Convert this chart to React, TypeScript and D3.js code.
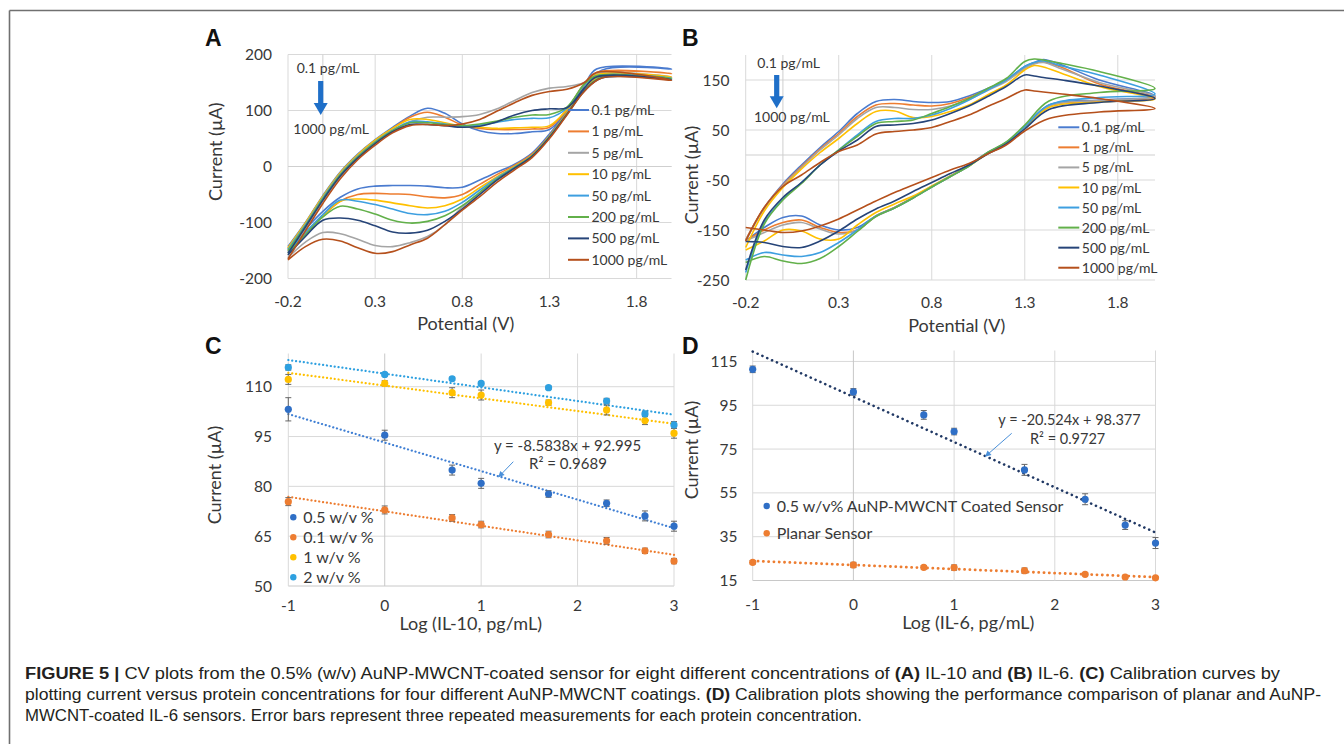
import React from "react";
import * as d3 from "d3";

// ---------------- Data ----------------
const CONC_LABELS = ["0.1 pg/mL", "1 pg/mL", "5 pg/mL", "10 pg/mL", "50 pg/mL", "200 pg/mL", "500 pg/mL", "1000 pg/mL"];
const CV_COLORS = ["#4a7bcf", "#ED7D31", "#A5A5A5", "#FFC000", "#3d9fe0", "#62b04a", "#264478", "#b5501c"];

const CV_X_TICKS = [-0.2, 0.3, 0.8, 1.3, 1.8];

// Panel A (IL-10) CV: forward scan potentials and currents
const A_FWD_V = [-0.2, -0.1, 0, 0.1, 0.2, 0.3, 0.4, 0.5, 0.6, 0.7, 0.8, 0.9, 1.0, 1.1, 1.2, 1.3, 1.4, 1.5, 1.57, 2.0];
const A_FWD_I = [
  [-143, -100, -52, -10, 22, 48, 70, 90, 104, 95, 76, 64, 59, 59, 62, 66, 100, 145, 174, 174],
  [-146, -102, -55, -12, 20, 46, 68, 88, 97, 88, 74, 68, 66, 66, 67, 70, 102, 148, 168, 166],
  [-158, -110, -62, -18, 15, 42, 63, 80, 88, 88, 89, 93, 103, 118, 132, 140, 143, 150, 166, 160],
  [-145, -101, -53, -11, 21, 47, 68, 84, 84, 78, 72, 70, 68, 69, 70, 73, 102, 146, 164, 160],
  [-148, -104, -56, -14, 18, 44, 65, 80, 80, 76, 72, 74, 79, 84, 86, 87, 104, 146, 162, 158],
  [-150, -106, -58, -15, 17, 43, 64, 78, 78, 75, 73, 76, 81, 88, 92, 93, 106, 147, 162, 157],
  [-155, -108, -60, -17, 15, 41, 62, 75, 75, 73, 70, 72, 80, 92, 100, 103, 105, 140, 160, 155],
  [-165, -115, -66, -22, 12, 38, 60, 73, 75, 73, 76, 84, 99, 114, 127, 134, 138, 150, 168, 154],
];
// Panel A reverse scan
const A_REV_V = [1.6, 1.5, 1.4, 1.3, 1.2, 1.1, 1.0, 0.9, 0.8, 0.7, 0.6, 0.5, 0.4, 0.3, 0.2, 0.1, 0.0, -0.1, -0.2];
const A_REV_I = [
  [172, 140, 98, 58, 24, 4, -10, -24, -37, -38, -35, -34, -34, -35, -40, -55, -80, -112, -148],
  [166, 138, 96, 55, 22, 2, -14, -32, -50, -56, -54, -50, -49, -48, -50, -62, -88, -118, -152],
  [162, 136, 94, 52, 18, -4, -24, -48, -72, -104, -125, -136, -143, -141, -130, -120, -118, -135, -163],
  [162, 137, 95, 54, 20, 0, -18, -38, -58, -70, -74, -70, -65, -60, -58, -62, -88, -118, -150],
  [160, 136, 94, 53, 19, -1, -20, -42, -64, -80, -86, -84, -76, -68, -62, -60, -86, -118, -152],
  [160, 136, 94, 53, 19, -2, -22, -46, -70, -88, -98, -101, -96, -85, -76, -71, -90, -122, -155],
  [158, 135, 93, 52, 18, -3, -24, -50, -76, -98, -114, -119, -117, -106, -96, -92, -96, -125, -158],
  [158, 134, 92, 50, 16, -6, -28, -54, -78, -104, -128, -140, -152, -155, -145, -133, -130, -143, -167],
];

// Panel B (IL-6) CV
const B_FWD_V = [-0.2, -0.1, 0, 0.1, 0.2, 0.3, 0.4, 0.5, 0.6, 0.7, 0.8, 0.9, 1.0, 1.1, 1.2, 1.3, 1.35, 1.4, 1.5, 1.7, 2.0];
const B_FWD_I = [
  [-170, -105, -58, -20, 15, 47, 83, 107, 111, 107, 105, 107, 118, 133, 150, 177, 185, 191, 180, 150, 118],
  [-170, -105, -60, -23, 12, 43, 77, 100, 103, 100, 98, 103, 115, 131, 150, 173, 183, 186, 175, 142, 115],
  [-172, -107, -62, -25, 10, 40, 73, 95, 95, 91, 91, 98, 111, 129, 147, 173, 182, 185, 172, 145, 117],
  [-185, -112, -65, -28, 5, 33, 63, 87, 88, 75, 77, 87, 100, 120, 140, 170, 179, 176, 163, 137, 112],
  [-235, -135, -88, -55, -20, 10, 40, 67, 73, 73, 80, 93, 110, 130, 150, 177, 185, 188, 178, 160, 122],
  [-250, -138, -90, -57, -20, 10, 37, 63, 67, 70, 83, 97, 113, 133, 153, 187, 192, 190, 183, 167, 133],
  [-230, -130, -85, -55, -20, 8, 30, 57, 60, 63, 70, 83, 98, 117, 137, 160, 158, 155, 150, 138, 113],
  [-172, -105, -63, -40, -15, 7, 20, 42, 47, 50, 55, 67, 80, 97, 113, 130, 128, 126, 122, 113, 93],
];
const B_REV_V = [1.7, 1.43, 1.3, 1.2, 1.1, 1.0, 0.9, 0.8, 0.7, 0.6, 0.5, 0.4, 0.3, 0.2, 0.1, 0.0, -0.1, -0.2];
const B_REV_I = [
  [110, 100, 57, 25, 5, -20, -42, -63, -85, -105, -122, -145, -150, -140, -122, -125, -145, -172],
  [108, 98, 55, 24, 4, -21, -43, -63, -85, -105, -122, -150, -155, -145, -130, -135, -150, -172],
  [109, 98, 55, 24, 4, -22, -43, -64, -86, -106, -123, -150, -158, -148, -135, -140, -155, -172],
  [106, 95, 54, 23, 3, -22, -42, -62, -82, -98, -115, -140, -168, -168, -152, -150, -172, -190],
  [115, 100, 56, 24, 4, -22, -43, -64, -86, -106, -122, -150, -175, -195, -203, -200, -195, -210],
  [125, 108, 60, 26, 5, -22, -43, -64, -86, -106, -123, -153, -183, -207, -217, -212, -203, -215],
  [105, 91, 52, 22, 2, -20, -37, -55, -73, -92, -108, -128, -152, -172, -185, -183, -175, -173],
  [86, 73, 48, 20, 2, -17, -30, -45, -60, -75, -92, -110, -128, -142, -152, -155, -150, -145],
];

// Calibration data (concentrations in pg/mL)
const CONC = [0.1, 1, 5, 10, 50, 200, 500, 1000];
const C_LABELS = ["0.5 w/v %", "0.1 w/v %", "1 w/v %", "2 w/v %"];
const C_COLORS = ["#2f6fc6", "#ED7D31", "#FFC000", "#2ea0e0"];
const C_TREND_COLORS = ["#3f7fd4", "#ED7D31", "#FFC000", "#2ea0e0"];
const C_05 = [103.2, 95.4, 84.9, 80.9, 77.7, 74.9, 71.1, 68.0];
const C_05_ERR = [3.5, 1.5, 1.5, 1.5, 1.0, 1.0, 1.5, 1.5];
const C_01 = [75.4, 72.9, 70.5, 68.5, 65.5, 63.6, 60.6, 57.5];
const C_01_ERR = [1.2, 1.2, 1.0, 1.0, 1.0, 1.0, 0.8, 0.8];
const C_1 = [112.2, 111.0, 108.2, 107.5, 105.2, 103.0, 99.8, 96.0];
const C_1_ERR = [1.5, 0.8, 1.5, 1.5, 0.8, 1.5, 1.2, 1.5];
const C_2 = [115.8, 113.7, 112.4, 111.0, 109.7, 105.7, 101.8, 98.5];
const C_2_ERR = [0.8, 0.5, 0.5, 0.5, 0.5, 0.8, 0.8, 1.0];

const D_LABELS = ["0.5 w/v% AuNP-MWCNT Coated Sensor", "Planar Sensor"];
const D_COLORS = ["#2f6fc6", "#ED7D31"];
const D_TREND_COLORS = ["#203864", "#ED7D31"];
const D_COATED = [111.4, 101.1, 90.6, 83.0, 65.5, 52.1, 40.3, 32.1];
const D_COATED_ERR = [1.5, 1.5, 2, 1.5, 2.5, 2.5, 2, 2.5];
const D_PLANAR = [23.3, 22.1, 21.0, 20.9, 19.5, 17.8, 16.6, 16.2];
const D_PLANAR_ERR = [0.8, 1.2, 0.8, 1.2, 1.2, 0.6, 0.4, 0.4];

const CAL_X_TICKS = [-1, 0, 1, 2, 3];
const C_Y_TICKS = [50, 65, 80, 95, 110];
const D_Y_TICKS = [15, 35, 55, 75, 95, 115];

// ---------------- Rendering ----------------
const FONT = "Lato, 'Open Sans', 'DejaVu Sans', sans-serif";
const GRID = "#D9D9D9";
const TXT = "#383838";

function linreg(xs: number[], ys: number[]) {
  const mx = d3.mean(xs) as number;
  const my = d3.mean(ys) as number;
  let sxy = 0, sxx = 0;
  xs.forEach((x, i) => { sxy += (x - mx) * (ys[i] - my); sxx += (x - mx) * (x - mx); });
  const m = sxy / sxx;
  return { m, b: my - m * mx };
}

function CVPanel(p: any) {
  const x = d3.scaleLinear().domain([-0.2, 2.0]).range([p.left, p.right]);
  const y = d3.scaleLinear().domain(p.yDomain).range([p.bottom, p.top]);
  const line = d3.line<[number, number]>().x(d => x(d[0])).y(d => y(d[1])).curve(d3.curveCatmullRom.alpha(0.5));
  return (
    <g>
      {p.yTicks.map((t: number) => (
        <line key={"gy" + t} x1={p.left} x2={p.right} y1={y(t)} y2={y(t)} stroke={GRID} strokeWidth={1} />
      ))}
      {CV_X_TICKS.map(t => (
        <line key={"gx" + t} x1={x(t)} x2={x(t)} y1={p.top} y2={p.bottom} stroke={GRID} strokeWidth={1} />
      ))}
      <line x1={x(0)} x2={x(0)} y1={p.top} y2={p.bottom} stroke="#CFCFCF" strokeWidth={1} />
      <line x1={p.left} x2={p.right} y1={y(0)} y2={y(0)} stroke="#CFCFCF" strokeWidth={1} />
      {p.fwd.map((f: number[], i: number) => {
        const pts: [number, number][] = p.fwdV.map((v: number, j: number) => [v, f[j]] as [number, number])
          .concat(p.revV.map((v: number, j: number) => [v, p.rev[i][j]] as [number, number]));
        return <path key={"c" + i} d={line(pts) || ""} fill="none" stroke={CV_COLORS[i]} strokeWidth={1.6} />;
      })}
      {p.yTickLabels.map((t: number) => (
        <text key={"yl" + t} x={p.yTickX} y={y(t)} dy="0.36em" textAnchor="end" fontSize={15.5} fill={TXT}>{String(t)}</text>
      ))}
      {CV_X_TICKS.map(t => (
        <text key={"xl" + t} x={x(t)} y={p.xTickY} textAnchor="middle" fontSize={15.5} fill={TXT}>{String(t)}</text>
      ))}
      <text x={p.xTitleX} y={p.xTitleY} textAnchor="middle" fontSize={18} fill={TXT}>Potential (V)</text>
      <text transform={`translate(${p.yTitleX},${p.yTitleY}) rotate(-90)`} textAnchor="middle" dy="0.36em" fontSize={18} fill={TXT}>Current (µA)</text>
      {CONC_LABELS.map((lab, i) => (
        <g key={"lg" + i}>
          <line x1={p.legX} x2={p.legX + 21} y1={p.legY + i * p.legStep} y2={p.legY + i * p.legStep} stroke={CV_COLORS[i]} strokeWidth={2} />
          <text x={p.legX + 23.5} y={p.legY + i * p.legStep} dy="0.36em" fontSize={14} fill={TXT}>{lab}</text>
        </g>
      ))}
      <text x={p.t1x} y={p.t1y} fontSize={14} fill={TXT}>0.1 pg/mL</text>
      <rect x={p.ax - 2.6} y={p.ay1} width={5.2} height={p.ay2 - p.ay1 - 11} fill="#1f6fc8" />
      <polygon points={`${p.ax - 7},${p.ay2 - 12} ${p.ax + 7},${p.ay2 - 12} ${p.ax},${p.ay2}`} fill="#1f6fc8" />
      <text x={p.t2x} y={p.t2y} fontSize={14} fill={TXT}>1000 pg/mL</text>
      <text x={p.letterX} y={p.letterY} fontSize={23} fontWeight="bold" fontFamily="'Liberation Sans', Arial, sans-serif" fill="#111">{p.letter}</text>
    </g>
  );
}

function CalPanel(p: any) {
  const x = d3.scaleLinear().domain([-1, 3]).range([p.left, p.right]);
  const y = d3.scaleLinear().domain(p.yDomain).range([p.bottom, p.top]);
  const lx = CONC.map(c => Math.log10(c));
  return (
    <g>
      {p.yTicks.map((t: number) => (
        <line key={"gy" + t} x1={p.left} x2={p.right} y1={y(t)} y2={y(t)} stroke={t === p.yDomain[0] ? "#C8C8C8" : GRID} strokeWidth={1} />
      ))}
      {CAL_X_TICKS.map(t => (
        <line key={"gx" + t} x1={x(t)} x2={x(t)} y1={p.top} y2={p.bottom} stroke={t === 0 ? "#C8C8C8" : GRID} strokeWidth={1} />
      ))}
      {p.series.map((s: any, i: number) => {
        const r = linreg(lx, s.v);
        return (
          <line key={"tr" + i} x1={x(-1)} x2={x(3)} y1={y(r.m * -1 + r.b)} y2={y(r.m * 3 + r.b)}
            stroke={s.trend} strokeWidth={s.tw} strokeDasharray={s.dash} strokeLinecap="round" />
        );
      })}
      {p.series.map((s: any, i: number) => (
        <g key={"s" + i}>
          {s.v.map((v: number, j: number) => (
            <g key={j}>
              <line x1={x(lx[j])} x2={x(lx[j])} y1={y(v - s.e[j])} y2={y(v + s.e[j])} stroke="#666" strokeWidth={1} />
              <line x1={x(lx[j]) - 3} x2={x(lx[j]) + 3} y1={y(v - s.e[j])} y2={y(v - s.e[j])} stroke="#666" strokeWidth={1} />
              <line x1={x(lx[j]) - 3} x2={x(lx[j]) + 3} y1={y(v + s.e[j])} y2={y(v + s.e[j])} stroke="#666" strokeWidth={1} />
              <circle cx={x(lx[j])} cy={y(v)} r={3.6} fill={s.color} />
            </g>
          ))}
        </g>
      ))}
      {p.yTicks.map((t: number) => (
        <text key={"yl" + t} x={p.yTickX} y={y(t)} dy="0.36em" textAnchor="end" fontSize={15.5} fill={TXT}>{String(t)}</text>
      ))}
      {CAL_X_TICKS.map(t => (
        <text key={"xl" + t} x={x(t)} y={p.xTickY} textAnchor="middle" fontSize={15.5} fill={TXT}>{String(t)}</text>
      ))}
      <text x={p.xTitleX} y={p.xTitleY} textAnchor="middle" fontSize={18} fill={TXT}>{p.xTitle}</text>
      <text transform={`translate(${p.yTitleX},${p.yTitleY}) rotate(-90)`} textAnchor="middle" dy="0.36em" fontSize={18} fill={TXT}>Current (µA)</text>
      {p.series.map((s: any, i: number) => (
        <g key={"lg" + i}>
          <circle cx={p.legX} cy={p.legY + i * p.legStep} r={3.2} fill={s.color} />
          <text x={p.legX + 10} y={p.legY + i * p.legStep} dy="0.36em" fontSize={16} fill={TXT}>{s.label}</text>
        </g>
      ))}
      <text x={p.eqX} y={p.eqY} textAnchor={p.eqAnchor} fontSize={p.eqSize} fill={TXT}>{p.eq}</text>
      <text x={p.r2X} y={p.r2Y} textAnchor={p.eqAnchor} fontSize={p.eqSize} fill={TXT}>{p.r2}</text>
      <line x1={p.arr[0]} y1={p.arr[1]} x2={p.arr[2]} y2={p.arr[3]} stroke="#4a90d9" strokeWidth={1} />
      {(() => {
        const [x1, y1, x2, y2] = p.arr;
        const a = Math.atan2(y2 - y1, x2 - x1);
        const L = 6, W = 3;
        const bx = x2 - L * Math.cos(a), by = y2 - L * Math.sin(a);
        const pts = `${x2},${y2} ${bx + W * Math.sin(a)},${by - W * Math.cos(a)} ${bx - W * Math.sin(a)},${by + W * Math.cos(a)}`;
        return <polygon points={pts} fill="#4a90d9" />;
      })()}
      <text x={p.letterX} y={p.letterY} fontSize={23} fontWeight="bold" fontFamily="'Liberation Sans', Arial, sans-serif" fill="#111">{p.letter}</text>
    </g>
  );
}

export default function App() {
  const cvA = {
    left: 288, right: 671.5, top: 54.5, bottom: 278.5, yDomain: [-200, 200],
    yTicks: [-200, -100, 0, 100, 200], yTickLabels: [-200, -100, 0, 100, 200],
    fwdV: A_FWD_V, revV: A_REV_V, fwd: A_FWD_I, rev: A_REV_I,
    yTickX: 272, xTickY: 307, xTitleX: 465.7, xTitleY: 329.5, yTitleX: 216, yTitleY: 151.7,
    legX: 568, legY: 110, legStep: 21.4,
    t1x: 296.7, t1y: 72.5, ax: 320.7, ay1: 81, ay2: 115, t2x: 293.3, t2y: 134,
    letter: "A", letterX: 205, letterY: 46,
  };
  const cvB = {
    left: 745.7, right: 1155, top: 55, bottom: 280, yDomain: [-250, 200],
    yTicks: [-250, -150, -50, 50, 150], yTickLabels: [-250, -150, -50, 50, 150],
    fwdV: B_FWD_V, revV: B_REV_V, fwd: B_FWD_I, rev: B_REV_I,
    yTickX: 729.5, xTickY: 308, xTitleX: 956.7, xTitleY: 331.5, yTitleX: 692, yTitleY: 175,
    legX: 1058.3, legY: 127.3, legStep: 20.06,
    t1x: 757.3, t1y: 68.3, ax: 776.7, ay1: 75, ay2: 108.3, t2x: 754, t2y: 122.3,
    letter: "B", letterX: 682, letterY: 46,
  };
  const calC = {
    left: 288.3, right: 674, top: 353.5, bottom: 586, yDomain: [50, 120], yTicks: C_Y_TICKS,
    yTickX: 272, xTickY: 611, xTitleX: 470.7, xTitleY: 630, yTitleX: 215, yTitleY: 475,
    xTitle: "Log (IL-10, pg/mL)",
    series: [
      { label: C_LABELS[0], v: C_05, e: C_05_ERR, color: C_COLORS[0], trend: C_TREND_COLORS[0], tw: 2.2, dash: "0.1 3.8" },
      { label: C_LABELS[1], v: C_01, e: C_01_ERR, color: C_COLORS[1], trend: C_TREND_COLORS[1], tw: 2.2, dash: "0.1 3.8" },
      { label: C_LABELS[2], v: C_1, e: C_1_ERR, color: C_COLORS[2], trend: C_TREND_COLORS[2], tw: 2.2, dash: "0.1 3.8" },
      { label: C_LABELS[3], v: C_2, e: C_2_ERR, color: C_COLORS[3], trend: C_TREND_COLORS[3], tw: 2.2, dash: "0.1 3.8" },
    ],
    legX: 293.3, legY: 517.3, legStep: 20,
    eq: "y = -8.5838x + 92.995", r2: "R² = 0.9689", eqX: 567.5, eqY: 450.5, r2X: 568, r2Y: 469, eqAnchor: "middle", eqSize: 15,
    arr: [513.3, 461.7, 498.3, 477.3],
    letter: "C", letterX: 205, letterY: 354,
  };
  const calD = {
    left: 752.7, right: 1155.5, top: 350.5, bottom: 580.5, yDomain: [15, 120], yTicks: D_Y_TICKS,
    yTickX: 737.5, xTickY: 610, xTitleX: 968.3, xTitleY: 629, yTitleX: 692, yTitleY: 450,
    xTitle: "Log (IL-6, pg/mL)",
    series: [
      { label: D_LABELS[0], v: D_COATED, e: D_COATED_ERR, color: D_COLORS[0], trend: D_TREND_COLORS[0], tw: 2.6, dash: "0.1 5.2" },
      { label: D_LABELS[1], v: D_PLANAR, e: D_PLANAR_ERR, color: D_COLORS[1], trend: D_TREND_COLORS[1], tw: 2.8, dash: "0.1 5.2" },
    ],
    legX: 766.7, legY: 506, legStep: 27.3,
    eq: "y = -20.524x + 98.377", r2: "R² = 0.9727", eqX: 998.3, eqY: 425, r2X: 1030, r2Y: 443.5, eqAnchor: "start", eqSize: 14.5,
    arr: [1011.7, 433.3, 985, 456.7],
    letter: "D", letterX: 682, letterY: 354,
  };
  const capFont = "'Liberation Sans', Arial, Helvetica, sans-serif";
  return (
    <svg width={1344} height={744} style={{ position: "absolute", left: 0, top: 0, background: "#fff" }} fontFamily={FONT}>
      <rect x={0} y={0} width={1344} height={744} fill="#fff" />
      <line x1={9.5} y1={10.5} x2={1344} y2={10.5} stroke="#707070" strokeWidth={1.6} />
      <line x1={9.5} y1={10.5} x2={9.5} y2={744} stroke="#707070" strokeWidth={1.6} />
      <CVPanel {...cvA} />
      <CVPanel {...cvB} />
      <CalPanel {...calC} />
      <CalPanel {...calD} />
      <g fontFamily={capFont} fontSize={16} fill="#231F20">
        <text x={25} y={678.5} textLength={1255} lengthAdjust="spacingAndGlyphs">
          <tspan fontWeight="bold">FIGURE 5 |</tspan>
          {" CV plots from the 0.5% (w/v) AuNP-MWCNT-coated sensor for eight different concentrations of "}
          <tspan fontWeight="bold">(A)</tspan>
          {" IL-10 and "}
          <tspan fontWeight="bold">(B)</tspan>
          {" IL-6. "}
          <tspan fontWeight="bold">(C)</tspan>
          {" Calibration curves by"}
        </text>
        <text x={25} y={699.5} textLength={1296} lengthAdjust="spacingAndGlyphs">
          {"plotting current versus protein concentrations for four different AuNP-MWCNT coatings. "}
          <tspan fontWeight="bold">(D)</tspan>
          {" Calibration plots showing the performance comparison of planar and AuNP-"}
        </text>
        <text x={25} y={720.5} textLength={837} lengthAdjust="spacingAndGlyphs">
          {"MWCNT-coated IL-6 sensors. Error bars represent three repeated measurements for each protein concentration."}
        </text>
      </g>
    </svg>
  );
}
